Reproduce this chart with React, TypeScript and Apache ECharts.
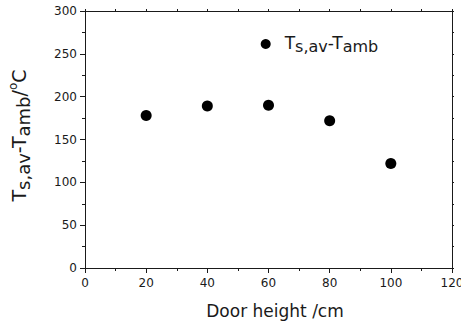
import React, { useEffect, useRef } from "react";
import * as echarts from "echarts";

const doorHeights = [20, 40, 60, 80, 100];
const tempDiff = [178, 189, 190, 172, 122];
const seriesName = "Ts,av-Tamb";
const xTitle = "Door height /cm";
// y title pieces: [text, kind]  kind: m = main, s = subscript, p = superscript
const yTitleParts: [string, string][] = [
  ["T", "m"],
  ["s,av", "s"],
  ["-T", "m"],
  ["amb", "s"],
  ["/", "m"],
  ["o", "p"],
  ["C", "m"],
];

const FONT = "DejaVu Sans";
const INK = "#1a1a1a";
const SIZES: Record<string, number> = { m: 19, s: 18, p: 12 };
const SHIFT: Record<string, number> = { m: 0, s: 4, p: -6 };

export default function App() {
  const ref = useRef<HTMLDivElement>(null);
  useEffect(() => {
    if (!ref.current) return;
    const chart = echarts.init(ref.current, null, { renderer: "svg" });
    const data = doorHeights.map((x, i) => [x, tempDiff[i]]);
    const richMain = {
      t: { fontFamily: FONT, fontSize: 17, lineHeight: 20, verticalAlign: "top", color: INK },
      tp: { fontFamily: FONT, fontSize: 17, lineHeight: 20, verticalAlign: "top", color: INK, padding: [0, 0, 0, 9] },
      s: { fontFamily: FONT, fontSize: 16, lineHeight: 20, verticalAlign: "top", padding: [4, 0, 0, 0], color: INK },
    };

    // measure pieces of the rotated y title
    const ctx = document.createElement("canvas").getContext("2d")!;
    const widths = yTitleParts.map(([txt, k]) => {
      ctx.font = `${SIZES[k]}px "${FONT}"`;
      return ctx.measureText(txt).width;
    });
    const total = widths.reduce((a, b) => a + b, 0);
    let cursor = -total / 2;
    const yTitleChildren = yTitleParts.map(([txt, k], i) => {
      const el = {
        type: "text",
        x: cursor,
        y: SHIFT[k],
        silent: true,
        style: {
          text: txt,
          fontFamily: FONT,
          fontSize: SIZES[k],
          fill: INK,
          align: "left",
          verticalAlign: "middle",
        },
      };
      cursor += widths[i];
      return el;
    });

    const axisLineStyle = { color: INK, width: 1 };
    chart.setOption({
      animation: false,
      grid: { left: 85, top: 11, right: 9, bottom: 56, containLabel: false, outerBoundsMode: "none" },
      legend: {
        show: true,
        left: 260.7,
        top: 34,
        padding: 0,
        itemWidth: 10,
        itemHeight: 10,
        icon: "circle",
        data: [seriesName],
        formatter: () => "{tp|T}{s|s,av}{t|-T}{s|amb}",
        textStyle: { rich: richMain, fontFamily: FONT, fontSize: 17, color: INK },
      },
      graphic: [
        {
          type: "group",
          x: 19,
          y: 135.5,
          rotation: Math.PI / 2,
          silent: true,
          children: yTitleChildren,
        },
      ],
      xAxis: [
        {
          type: "value",
          position: "bottom",
          min: 0,
          max: 120,
          interval: 20,
          axisLine: { show: true, onZero: false, lineStyle: axisLineStyle },
          axisTick: { show: true, inside: false, length: 5, lineStyle: axisLineStyle },
          minorTick: { show: true, splitNumber: 2, length: 3, lineStyle: axisLineStyle },
          splitLine: { show: false },
          axisLabel: { fontFamily: FONT, fontSize: 12, color: INK, margin: 9, showMaxLabel: true, showMinLabel: true },
          name: xTitle,
          nameLocation: "middle",
          nameGap: 34,
          nameTextStyle: { fontFamily: FONT, fontSize: 17, color: INK, padding: [0, 0, 0, 13] },
        },
        {
          type: "value",
          position: "top",
          min: 0,
          max: 120,
          interval: 10,
          axisLine: { show: true, onZero: false, lineStyle: axisLineStyle },
          axisTick: { show: true, inside: false, length: 2, lineStyle: axisLineStyle },
          splitLine: { show: false },
          axisLabel: { show: false },
        },
      ],
      yAxis: [
        {
          type: "value",
          position: "left",
          min: 0,
          max: 300,
          interval: 50,
          axisLine: { show: true, onZero: false, lineStyle: axisLineStyle },
          axisTick: { show: true, inside: false, length: 5, lineStyle: axisLineStyle },
          minorTick: { show: true, splitNumber: 2, length: 3, lineStyle: axisLineStyle },
          splitLine: { show: false },
          axisLabel: { fontFamily: FONT, fontSize: 12, color: INK, margin: 8 },
        },
        {
          type: "value",
          position: "right",
          min: 0,
          max: 300,
          interval: 25,
          axisLine: { show: true, onZero: false, lineStyle: axisLineStyle },
          axisTick: { show: true, inside: false, length: 2, lineStyle: axisLineStyle },
          splitLine: { show: false },
          axisLabel: { show: false },
        },
      ],
      series: [
        {
          name: seriesName,
          type: "scatter",
          xAxisIndex: 0,
          yAxisIndex: 0,
          data,
          symbol: "circle",
          symbolSize: 11,
          itemStyle: { color: "#000000", opacity: 1 },
        },
      ],
    });
    return () => chart.dispose();
  }, []);
  return (
    <div
      ref={ref}
      style={{ position: "absolute", left: 0, top: 0, width: 461, height: 324, background: "#fff" }}
    />
  );
}
